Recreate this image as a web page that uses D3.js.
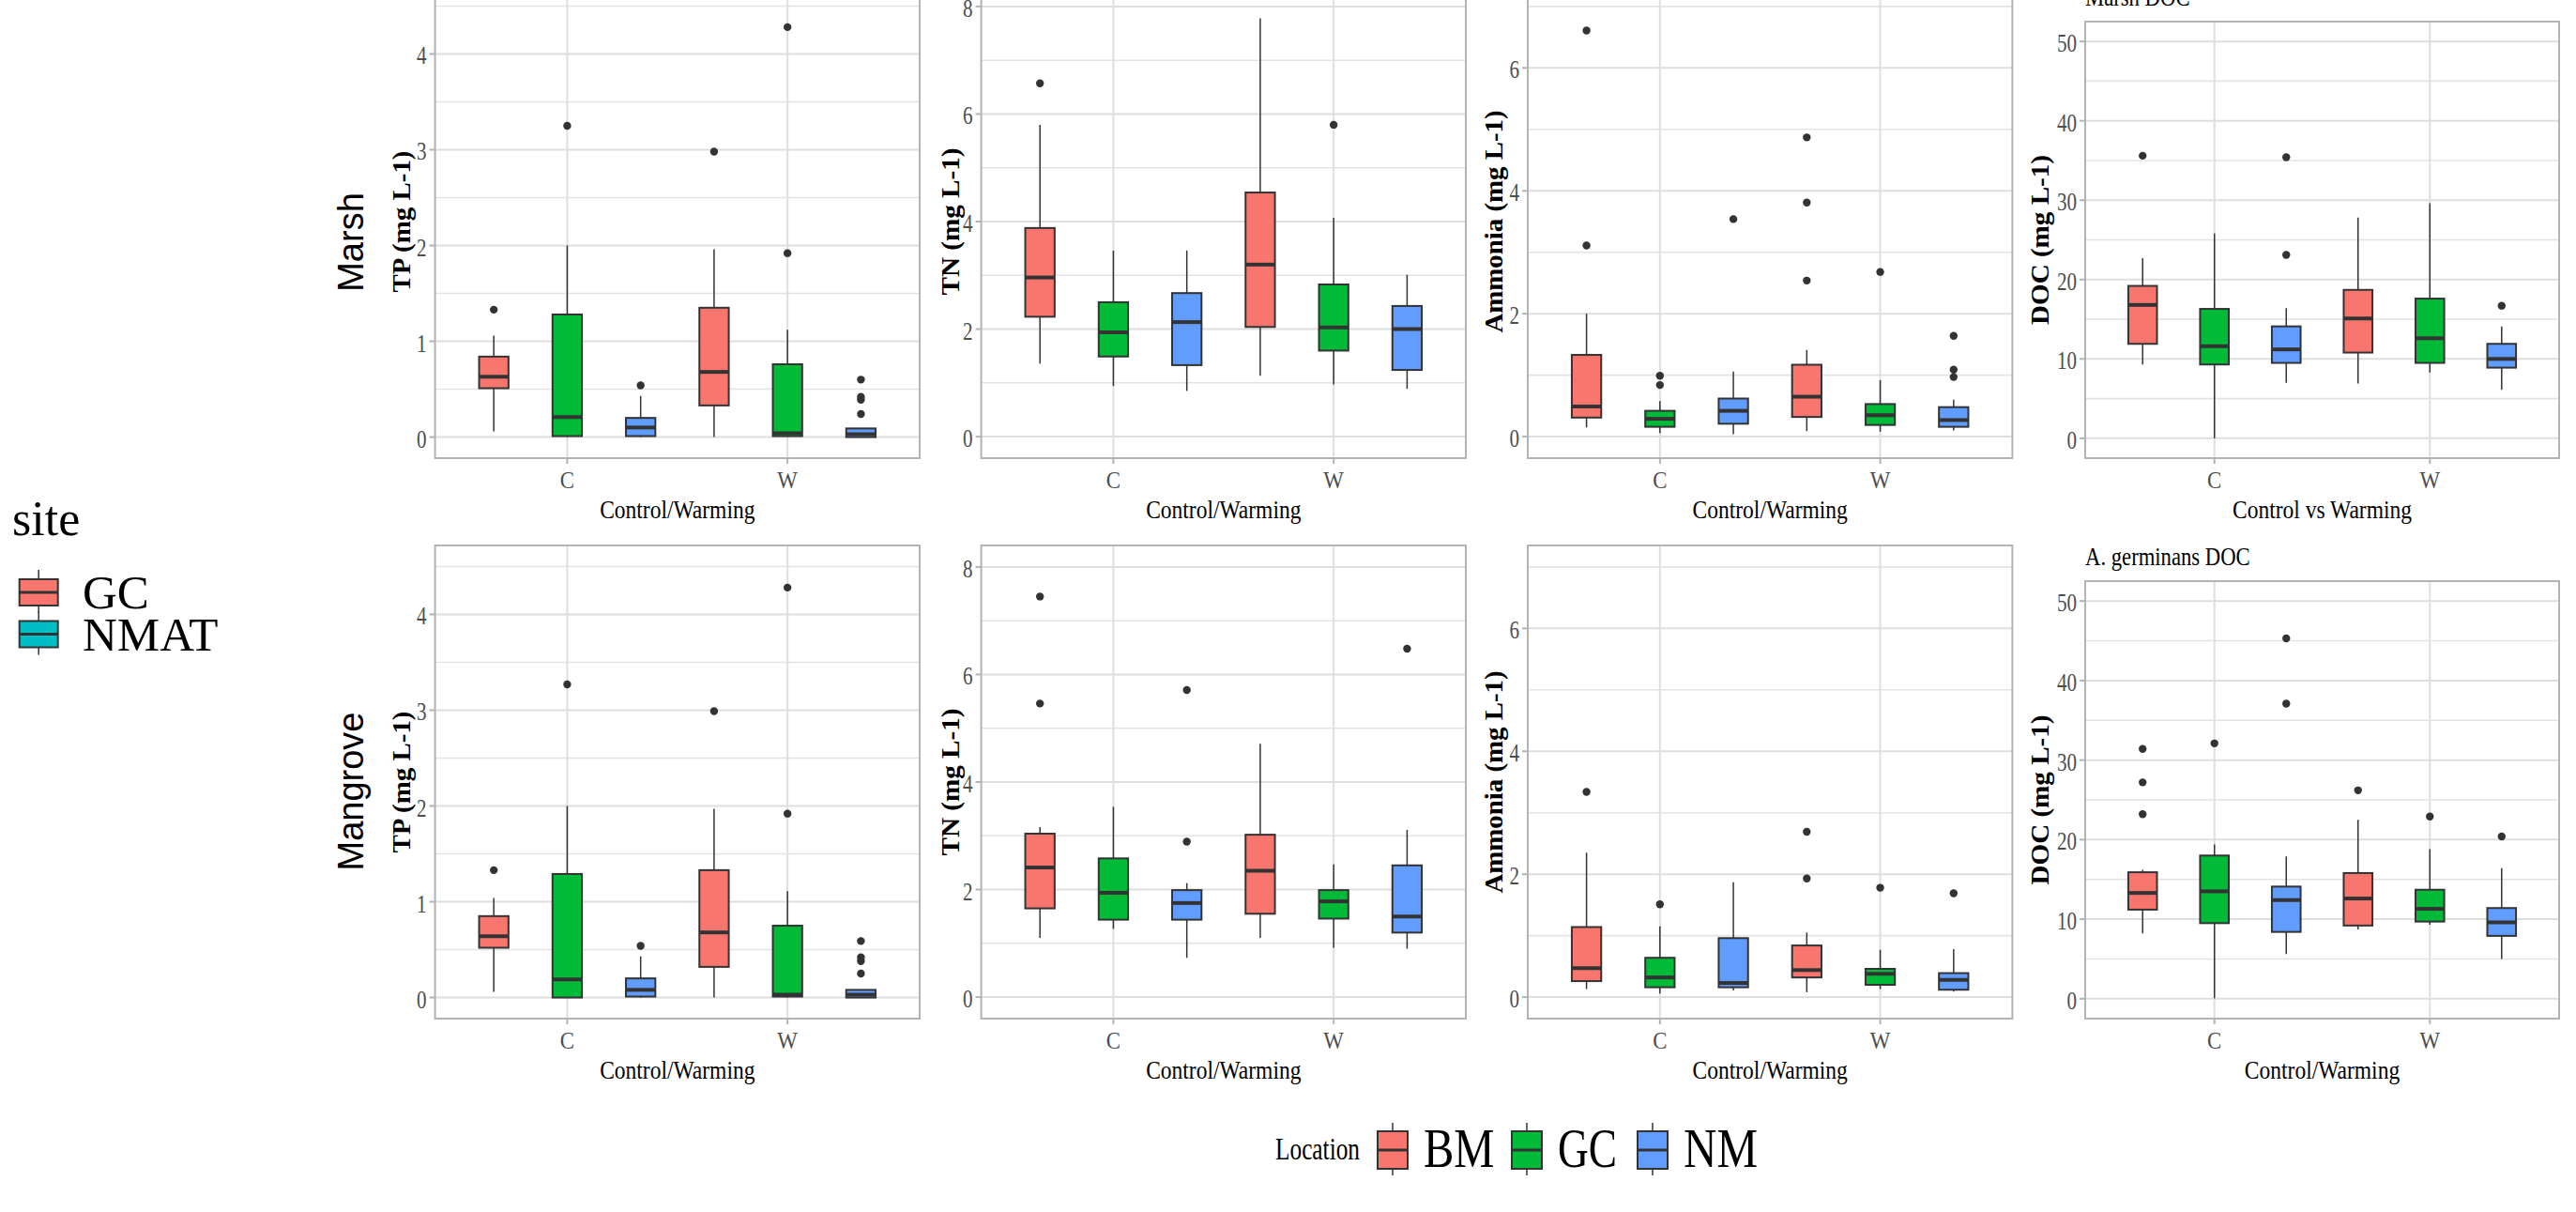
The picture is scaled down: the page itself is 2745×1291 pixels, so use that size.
<!DOCTYPE html>
<html><head><meta charset="utf-8">
<script src="https://cdn.jsdelivr.net/npm/d3@7"></script>
<style>html,body{margin:0;padding:0;background:#fff;} svg{display:block;}</style>
</head><body>
<svg id="c" width="2745" height="1291"></svg>
<script>
// ---------------- DATA ----------------
const treatments = ["C", "W"];
const locations = ["BM", "GC", "NM"];
const siteLevels = ["GC", "NMAT"];
const habitats = ["Marsh", "Mangrove"];
const variables = ["TP", "TN", "Ammonia", "DOC"];
const yTitles = ["TP (mg L-1)", "TN (mg L-1)", "Ammonia (mg L-1)", "DOC (mg L-1)"];
const xTitlesMarsh = ["Control/Warming", "Control/Warming", "Control/Warming", "Control vs Warming"];
const xTitlesMangrove = ["Control/Warming", "Control/Warming", "Control/Warming", "Control/Warming"];
const plotTitles = ["Marsh DOC", "A. germinans DOC"];
const ticksTP = [0, 1, 2, 3, 4];
const ticksTN = [0, 2, 4, 6, 8];
const ticksAmmonia = [0, 2, 4, 6];
const ticksDOC = [0, 10, 20, 30, 40, 50];
const minorTP = [0.5, 1.5, 2.5, 3.5, 4.5];
const minorTN = [1, 3, 5, 7];
const minorAmmonia = [1, 3, 5, 7];
const minorDOC = [5, 15, 25, 35, 45];

// box stats per group, order: BM-C, GC-C, NM-C, BM-W, GC-W, NM-W ; [lower, q1, median, q3, upper]
const tpMarshStats = [[0.06,0.51,0.63,0.84,1.06],[0,0.01,0.21,1.28,2.0],[0,0.01,0.10,0.20,0.43],[0,0.33,0.68,1.35,1.96],[0,0.01,0.04,0.76,1.12],[0,0,0.03,0.09,0.09]];
const tpMarshOut = [[1.33],[3.25],[0.54],[2.98],[1.92,4.28],[0.24,0.39,0.42,0.60]];
const tnMarshStats = [[1.36,2.23,2.96,3.88,5.80],[0.94,1.49,1.94,2.50,3.46],[0.85,1.33,2.13,2.67,3.46],[1.13,2.04,3.20,4.54,7.78],[0.97,1.60,2.03,2.83,4.07],[0.89,1.24,2.00,2.43,3.01]];
const tnMarshOut = [[6.57],[],[],[],[5.80],[]];
const nhMarshStats = [[0.15,0.31,0.49,1.33,2.0],[0.06,0.16,0.29,0.42,0.58],[0.04,0.21,0.42,0.62,1.06],[0.09,0.32,0.65,1.17,1.41],[0.08,0.19,0.35,0.53,0.92],[0.10,0.16,0.27,0.48,0.60]];
const nhMarshOut = [[3.11,6.61],[0.84,0.99],[3.54],[2.54,3.81,4.87],[2.68],[0.97,1.09,1.64]];
const docMarshStats = [[9.3,11.9,16.8,19.2,22.7],[0,9.3,11.6,16.3,25.8],[7.0,9.5,11.2,14.1,16.4],[6.9,10.8,15.1,18.7,27.8],[8.3,9.5,12.6,17.6,29.6],[6.1,8.9,10.0,11.9,14.1]];
const docMarshOut = [[35.6],[],[23.1,35.4],[],[],[16.7]];

const tpMangroveStats = [[0.06,0.52,0.64,0.85,1.04],[0,0,0.19,1.29,2.0],[0,0.01,0.08,0.20,0.43],[0,0.32,0.68,1.33,1.97],[0,0.01,0.03,0.75,1.11],[0,0,0.03,0.08,0.08]];
const tpMangroveOut = [[1.33],[3.27],[0.54],[2.99],[1.92,4.28],[0.25,0.38,0.42,0.59]];
const tnMangroveStats = [[1.10,1.65,2.41,3.04,3.16],[1.27,1.44,1.94,2.58,3.54],[0.73,1.44,1.75,1.99,2.12],[1.10,1.55,2.35,3.02,4.71],[0.92,1.46,1.78,1.99,2.47],[0.90,1.20,1.50,2.45,3.11]];
const tnMangroveOut = [[5.46,7.45],[],[2.89,5.71],[],[],[6.48]];
const nhMangroveStats = [[0.13,0.26,0.47,1.14,2.35],[0.06,0.16,0.32,0.64,1.15],[0.11,0.16,0.23,0.96,1.87],[0.08,0.32,0.44,0.84,1.05],[0.13,0.20,0.38,0.46,0.77],[0.09,0.12,0.28,0.39,0.78]];
const nhMangroveOut = [[3.34],[1.51],[],[1.93,2.69],[1.78],[1.69]];
const docMangroveStats = [[8.2,11.2,13.3,15.9,16.2],[0.05,9.5,13.5,18.0,19.4],[5.6,8.4,12.4,14.1,17.9],[8.7,9.2,12.6,15.8,22.5],[9.3,9.7,11.3,13.7,18.8],[5.0,7.9,9.6,11.4,16.4]];
const docMangroveOut = [[23.2,27.2,31.4],[32.1],[37.1,45.3],[26.2],[22.9],[20.4]];

// ---------------- STYLE / LAYOUT ----------------
const locColors = ["#F8766D", "#00BA38", "#619CFF"];
const siteColors = ["#F8766D", "#00BFC4"];
const SERIF = "'Liberation Serif','Times New Roman',serif";
const SANS = "'Liberation Sans',Arial,sans-serif";
const panelX = [[463.6, 980], [1045.6, 1562], [1628, 2144.4], [2222, 2727]];
const rowY = [[-16, 488], [581, 1085]];
const docRowY = [[23, 488], [619, 1085]];
const yDomains = [[-0.22, 4.72], [-0.4, 8.4], [-0.35, 7.35], [-2.5, 52.5]];
const yTitleX = [437, 1022, 1601, 2183];

const svg = d3.select("#c");
svg.append("rect").attr("width", 2745).attr("height", 1291).attr("fill", "#fff");

function fit(sel, f) {
  sel.each(function () {
    const L = this.getComputedTextLength();
    d3.select(this).attr("textLength", L * f).attr("lengthAdjust", "spacingAndGlyphs");
  });
  return sel;
}
function fitTo(sel, w) {
  sel.attr("textLength", w).attr("lengthAdjust", "spacingAndGlyphs");
  return sel;
}

const statsTable = [
  [tpMarshStats, tnMarshStats, nhMarshStats, docMarshStats],
  [tpMangroveStats, tnMangroveStats, nhMangroveStats, docMangroveStats]
];
const outTable = [
  [tpMarshOut, tnMarshOut, nhMarshOut, docMarshOut],
  [tpMangroveOut, tnMangroveOut, nhMangroveOut, docMangroveOut]
];
const tickTable = [ticksTP, ticksTN, ticksAmmonia, ticksDOC];
const minorTable = [minorTP, minorTN, minorAmmonia, minorDOC];
const xTitleTable = [xTitlesMarsh, xTitlesMangrove];

for (let r = 0; r < 2; r++) {
  for (let c = 0; c < 4; c++) {
    const [xl, xr] = panelX[c];
    const [yt, yb] = c === 3 ? docRowY[r] : rowY[r];
    const x = d3.scalePoint().domain(treatments).range([xl, xr]).padding(0.6);
    const step = x.step();
    const y = d3.scaleLinear().domain(yDomains[c]).range([yb, yt]);
    const g = svg.append("g");

    // grid
    g.selectAll(".mn").data(minorTable[c]).join("line")
      .attr("x1", xl).attr("x2", xr).attr("y1", d => y(d)).attr("y2", d => y(d))
      .attr("stroke", "#E3E3E3").attr("stroke-width", 1.6);
    g.selectAll(".mj").data(tickTable[c]).join("line")
      .attr("x1", xl).attr("x2", xr).attr("y1", d => y(d)).attr("y2", d => y(d))
      .attr("stroke", "#DEDEDE").attr("stroke-width", 2);
    g.selectAll(".vx").data(treatments).join("line")
      .attr("x1", d => x(d)).attr("x2", d => x(d)).attr("y1", yt).attr("y2", yb)
      .attr("stroke", "#DEDEDE").attr("stroke-width", 2);

    // boxes
    const stats = statsTable[r][c];
    const outs = outTable[r][c];
    const bw = step * 0.4 / 3;
    const groups = stats.map((s, i) => ({
      s, out: outs[i], loc: i % 3,
      cx: x(treatments[Math.floor(i / 3)]) + (i % 3 - 1) * step / 3
    }));
    const bg = g.selectAll(".bx").data(groups).join("g");
    bg.append("line").attr("x1", d => d.cx).attr("x2", d => d.cx)
      .attr("y1", d => y(d.s[4])).attr("y2", d => y(d.s[3]))
      .attr("stroke", "#333").attr("stroke-width", 1.5);
    bg.append("line").attr("x1", d => d.cx).attr("x2", d => d.cx)
      .attr("y1", d => y(d.s[1])).attr("y2", d => y(d.s[0]))
      .attr("stroke", "#333").attr("stroke-width", 1.5);
    bg.append("rect").attr("x", d => d.cx - bw / 2).attr("width", bw)
      .attr("y", d => y(d.s[3])).attr("height", d => Math.max(0.5, y(d.s[1]) - y(d.s[3])))
      .attr("fill", d => locColors[d.loc]).attr("stroke", "#333").attr("stroke-width", 2);
    bg.append("line").attr("x1", d => d.cx - bw / 2).attr("x2", d => d.cx + bw / 2)
      .attr("y1", d => y(d.s[2])).attr("y2", d => y(d.s[2]))
      .attr("stroke", "#333").attr("stroke-width", 4);
    bg.selectAll("circle").data(d => d.out.map(v => ({ v, cx: d.cx }))).join("circle")
      .attr("cx", d => d.cx).attr("cy", d => y(d.v)).attr("r", 4.2).attr("fill", "#333");

    // border
    g.append("rect").attr("x", xl).attr("y", yt).attr("width", xr - xl).attr("height", yb - yt)
      .attr("fill", "none").attr("stroke", "#B3B3B3").attr("stroke-width", 2);

    // y ticks
    g.selectAll(".yt").data(tickTable[c]).join("line")
      .attr("x1", xl - 6).attr("x2", xl).attr("y1", d => y(d)).attr("y2", d => y(d))
      .attr("stroke", "#B3B3B3").attr("stroke-width", 2);
    fit(g.selectAll(".yl").data(tickTable[c]).join("text")
      .attr("x", xl - 9).attr("y", d => y(d) + 2).attr("text-anchor", "end")
      .attr("dominant-baseline", "central").attr("font-family", SERIF).attr("font-size", 27)
      .attr("fill", "#4D4D4D").text(d => d), 0.78);

    // x ticks
    g.selectAll(".xt").data(treatments).join("line")
      .attr("x1", d => x(d)).attr("x2", d => x(d)).attr("y1", yb).attr("y2", yb + 6)
      .attr("stroke", "#B3B3B3").attr("stroke-width", 2);
    fit(g.selectAll(".xl").data(treatments).join("text")
      .attr("x", d => x(d)).attr("y", yb + 32).attr("text-anchor", "middle")
      .attr("font-family", SERIF).attr("font-size", 26).attr("fill", "#4D4D4D").text(d => d), 0.88);

    // x title
    fit(g.append("text").attr("x", (xl + xr) / 2).attr("y", yb + 64).attr("text-anchor", "middle")
      .attr("font-family", SERIF).attr("font-size", 28).attr("fill", "#000").text(xTitleTable[r][c]), 0.84);

    // y title
    const ylen = [151, 157, 237, 181][c];
    fitTo(g.append("text")
      .attr("transform", `translate(${yTitleX[c]},${(yt + yb) / 2}) rotate(-90)`)
      .attr("text-anchor", "middle").attr("font-family", SERIF).attr("font-weight", "bold")
      .attr("font-size", 28).attr("fill", "#000").text(yTitles[c]), ylen);

    if (c === 3) {
      fit(g.append("text").attr("x", xl).attr("y", yt - 17).attr("font-family", SERIF)
        .attr("font-size", 27).attr("fill", "#000").text(plotTitles[r]), 0.84);
    }
  }
}

// row labels
const rowLabelY = [258, 843];
svg.selectAll(".hab").data(habitats).join("text")
  .attr("transform", (d, i) => `translate(387,${rowLabelY[i]}) rotate(-90)`)
  .attr("text-anchor", "middle").attr("font-family", SANS).attr("font-size", 38)
  .attr("fill", "#000").text(d => d);

// site legend
svg.append("text").attr("x", 13).attr("y", 570).attr("font-family", SERIF)
  .attr("font-size", 52).attr("fill", "#000").text("site");
const siteKeyY = [631, 675.5];
const sk = svg.selectAll(".sk").data(siteLevels).join("g");
sk.append("line").attr("x1", 41.2).attr("x2", 41.2).attr("y1", (d, i) => siteKeyY[i] - 24).attr("y2", (d, i) => siteKeyY[i] + 22)
  .attr("stroke", "#333").attr("stroke-width", 1.5);
sk.append("rect").attr("x", 20.7).attr("width", 41).attr("y", (d, i) => siteKeyY[i] - 14).attr("height", 28)
  .attr("fill", (d, i) => siteColors[i]).attr("stroke", "#333").attr("stroke-width", 2);
sk.append("line").attr("x1", 20.7).attr("x2", 61.7).attr("y1", (d, i) => siteKeyY[i]).attr("y2", (d, i) => siteKeyY[i])
  .attr("stroke", "#333").attr("stroke-width", 3);
sk.append("text").attr("x", 88).attr("y", (d, i) => siteKeyY[i] + 17).attr("font-family", SERIF)
  .attr("font-size", 51).attr("fill", "#000").text(d => d);

// Location legend
fitTo(svg.append("text").attr("x", 1359).attr("y", 1235).attr("font-family", SERIF)
  .attr("font-size", 34).attr("fill", "#000").text("Location"), 90);
const locKeyX = [1468, 1611, 1745];
const locLabelW = [75.5, 63, 79];
const lk = svg.selectAll(".lk").data(locations).join("g");
lk.append("line").attr("x1", (d, i) => locKeyX[i] + 16).attr("x2", (d, i) => locKeyX[i] + 16)
  .attr("y1", 1196).attr("y2", 1252).attr("stroke", "#333").attr("stroke-width", 1.5);
lk.append("rect").attr("x", (d, i) => locKeyX[i]).attr("width", 32).attr("y", 1205).attr("height", 40)
  .attr("fill", (d, i) => locColors[i]).attr("stroke", "#333").attr("stroke-width", 2);
lk.append("line").attr("x1", (d, i) => locKeyX[i]).attr("x2", (d, i) => locKeyX[i] + 32)
  .attr("y1", 1225).attr("y2", 1225).attr("stroke", "#333").attr("stroke-width", 3);
lk.append("text").attr("x", (d, i) => locKeyX[i] + 49).attr("y", 1242.5).attr("font-family", SERIF)
  .attr("font-size", 60).attr("fill", "#000").text(d => d)
  .attr("textLength", (d, i) => locLabelW[i]).attr("lengthAdjust", "spacingAndGlyphs");
</script>
</body></html>
